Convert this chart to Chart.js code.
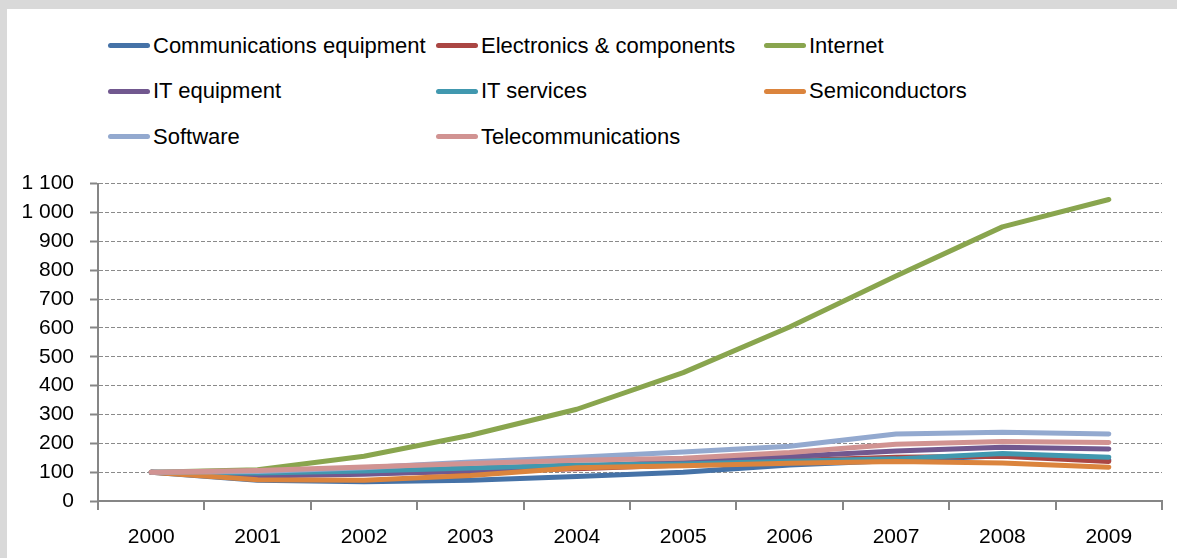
<!DOCTYPE html>
<html>
<head>
<meta charset="utf-8">
<script src="https://cdn.jsdelivr.net/npm/chart.js@4.4.1/dist/chart.umd.min.js"></script>
<style>
  html, body { margin: 0; padding: 0; }
  body {
    width: 1177px; height: 558px; overflow: hidden; position: relative;
    background: #d9d9d9;
    font-family: "Liberation Sans", Arial, sans-serif;
  }
  .panel { position: absolute; left: 7px; top: 9px; right: 0; bottom: 0; background: #fff; }
  #legend {
    position: absolute; left: 101px; top: 14px;
    display: grid; grid-template-columns: 328px 328px 328px; grid-auto-rows: 45.5px;
  }
  .item { display: flex; align-items: center; font-size: 22px; color: #000; white-space: nowrap; }
  .swatch { width: 42px; height: 5px; border-radius: 3px; margin-right: 3px; }
  .wrap { position: absolute; left: 7px; top: 155px; width: 1170px; height: 403px; }
</style>
</head>
<body>
<div class="panel"><div id="legend"></div></div>
<div class="wrap"><canvas id="chart"></canvas></div>
<script>
const years = ['2000', '2001', '2002', '2003', '2004', '2005', '2006', '2007', '2008', '2009'];

const seriesNames = [
    'Communications equipment', 'Electronics & components', 'Internet',
    'IT equipment', 'IT services', 'Semiconductors',
    'Software', 'Telecommunications'
];
const seriesColors = ['#4572a7', '#aa4643', '#89a54e', '#71588f', '#4198af', '#db843d', '#93a9cf', '#d19392'];

const commEquipment  = [100, 72, 67, 72, 85, 100, 125, 140, 157, 142];
const electronics    = [100, 92, 96, 102, 112, 125, 140, 152, 155, 137];
const internet       = [100, 108, 155, 228, 318, 445, 603, 780, 950, 1045];
const itEquipment    = [100, 87, 93, 105, 120, 137, 154, 173, 186, 180];
const itServices     = [100, 97, 104, 114, 125, 128, 138, 146, 165, 152];
const semiconductors = [100, 74, 72, 88, 115, 122, 131, 137, 132, 117];
const software       = [100, 102, 115, 135, 152, 170, 190, 232, 238, 232];
const telecom        = [100, 106, 118, 130, 141, 148, 168, 197, 206, 203];

const seriesValues = [commEquipment, electronics, internet, itEquipment, itServices, semiconductors, software, telecom];

const yMin = 0, yMax = 1100, yStep = 100;

function spaced(v) {
    return String(v).replace(/\B(?=(\d{3})+(?!\d))/g, ' ');
}

// legend in a fixed 3-column grid
const legendEl = document.getElementById('legend');
seriesNames.forEach((name, i) => {
    const item = document.createElement('div');
    item.className = 'item';
    const sw = document.createElement('span');
    sw.className = 'swatch';
    sw.style.background = seriesColors[i];
    item.appendChild(sw);
    item.appendChild(document.createTextNode(name));
    legendEl.appendChild(item);
});

const tickFont = { family: '"Liberation Sans", Arial, sans-serif', size: 21 };

new Chart(document.getElementById('chart'), {
    type: 'line',
    data: {
        labels: years,
        datasets: seriesNames.map((name, i) => ({
            label: name,
            data: seriesValues[i],
            borderColor: seriesColors[i],
            backgroundColor: seriesColors[i],
            borderWidth: 5,
            borderCapStyle: 'round',
            borderJoinStyle: 'round',
            pointRadius: 0,
            tension: 0,
            // later series sit on top
            order: seriesNames.length - i
        }))
    },
    options: {
        responsive: true,
        maintainAspectRatio: false,
        animation: false,
        layout: { padding: { top: 7, right: 15, left: 0, bottom: 0 } },
        plugins: {
            legend: { display: false },
            tooltip: { enabled: false }
        },
        scales: {
            x: {
                offset: true,
                grid: {
                    offset: true,
                    drawOnChartArea: false,
                    color: '#868686',
                    lineWidth: 2,
                    tickLength: 9
                },
                border: { color: '#868686', width: 2 },
                ticks: { color: '#000', font: tickFont, padding: 15, maxRotation: 0 },
                afterFit: (scale) => { scale.height = 57; }
            },
            y: {
                min: yMin,
                max: yMax,
                grid: {
                    color: '#8a8a8a',
                    lineWidth: 1,
                    tickLength: 8,
                    tickColor: '#868686',
                    tickWidth: 2
                },
                border: { color: '#868686', width: 2, dash: [4, 2] },
                ticks: {
                    stepSize: yStep,
                    autoSkip: false,
                    color: '#000',
                    font: tickFont,
                    padding: 16,
                    callback: (v) => spaced(v)
                },
                afterFit: (scale) => { scale.width = 91; }
            }
        }
    }
});
</script>
</body>
</html>
